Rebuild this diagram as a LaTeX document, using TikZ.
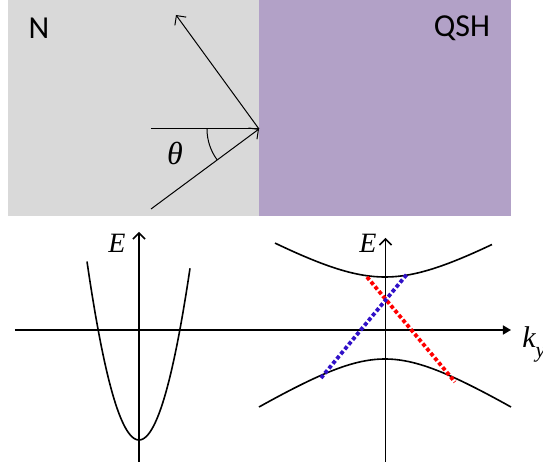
\documentclass[tikz,border=0pt]{standalone}
\usepackage{fontspec}
\setmainfont{Liberation Serif}
\newfontfamily\calibri{Carlito}
\usepackage{xcolor}
\usetikzlibrary{arrows.meta}
\definecolor{NBack}{RGB}{217,217,217}
\definecolor{QshBack}{RGB}{178,161,199}
\definecolor{EdgeBlue}{RGB}{48,16,200}
\definecolor{EdgeRed}{RGB}{255,0,0}

\begin{document}
\begin{tikzpicture}[
  x=0.5pt, y=0.5pt,
  lab/.style={font=\calibri\fontsize{16}{19}\selectfont, inner sep=0pt},
  sym/.style={font=\fontsize{15}{18}\selectfont\itshape, inner sep=0pt},
  arr/.style={-{Straight Barb[length=3.5pt,width=7pt]}, line width=0.5pt},
  axis/.style={line width=0.75pt},
  band/.style={line width=0.8pt, smooth, samples=60},
  edge/.style={line width=1.9pt, dash pattern=on 1.9pt off 1.2pt},
]
  \useasboundingbox (0,0) rectangle (543,466);

  \fill[NBack] (8,250) rectangle (259,466);
  \fill[QshBack] (259,250) rectangle (511,466);
  \node[lab] (n) at (39,437.5) {N};
  \node[lab] (qsh) at (462,438) {QSH};

  % scattering at the interface
  \coordinate (hit) at (259,337);
  \coordinate (out) at (176,451);
  \coordinate (in) at (151,257);
  \coordinate (ref) at (151,337);
  \draw[line width=0.5pt] (ref) -- (hit);
  \draw[arr] (in) -- (hit);
  \draw[arr] (hit) -- (out);
  \draw[line width=0.5pt] (hit) ++(180:52) arc[start angle=180, end angle=216.5, radius=52];
  \node[sym, font=\fontsize{16}{19}\selectfont\itshape] (theta) at (175,313) {θ};

  % dispersions
  \coordinate (kl) at (15,136);
  \coordinate (kr) at (511,136);
  \coordinate (nlo) at (139,4);
  \coordinate (nhi) at (139,234);
  \coordinate (qlo) at (385.5,4);
  \coordinate (qhi) at (385.5,228);
  \draw[axis, -{Triangle[length=4pt,width=4.5pt]}] (kl) -- (kr);
  \draw[axis, -{Straight Barb[length=3pt,width=6pt]}] (nlo) -- (nhi);
  \draw[axis, -{Straight Barb[length=3pt,width=6pt]}] (qlo) -- (qhi);
  \node[sym, font=\fontsize{14}{17}\selectfont\itshape] (en) at (117,223) {E};
  \node[sym, font=\fontsize{14}{17}\selectfont\itshape] (eq) at (368,223) {E};
  \node[sym, anchor=base west] (ky) at (522,118) {k\raisebox{-5pt}{\fontsize{11}{13}\selectfont y}};

  \draw[band, domain=-52:51] plot ({139+\x},{26+0.066*\x*\x});
  \draw[band, domain=-110:107] plot ({385+\x},{148+sqrt(1681+(0.57*\x)^2)});
  \draw[band, domain=-126:126] plot ({385+\x},{148-sqrt(1681+(0.627*\x)^2)});

  \coordinate (r1) at (367,189);
  \coordinate (r2) at (455,84);
  \coordinate (b1) at (321,88);
  \coordinate (b2) at (408,193);
  \draw[edge, EdgeRed] (r1) -- (r2);
  \draw[edge, EdgeBlue] (b1) -- (b2);
\end{tikzpicture}
\end{document}
